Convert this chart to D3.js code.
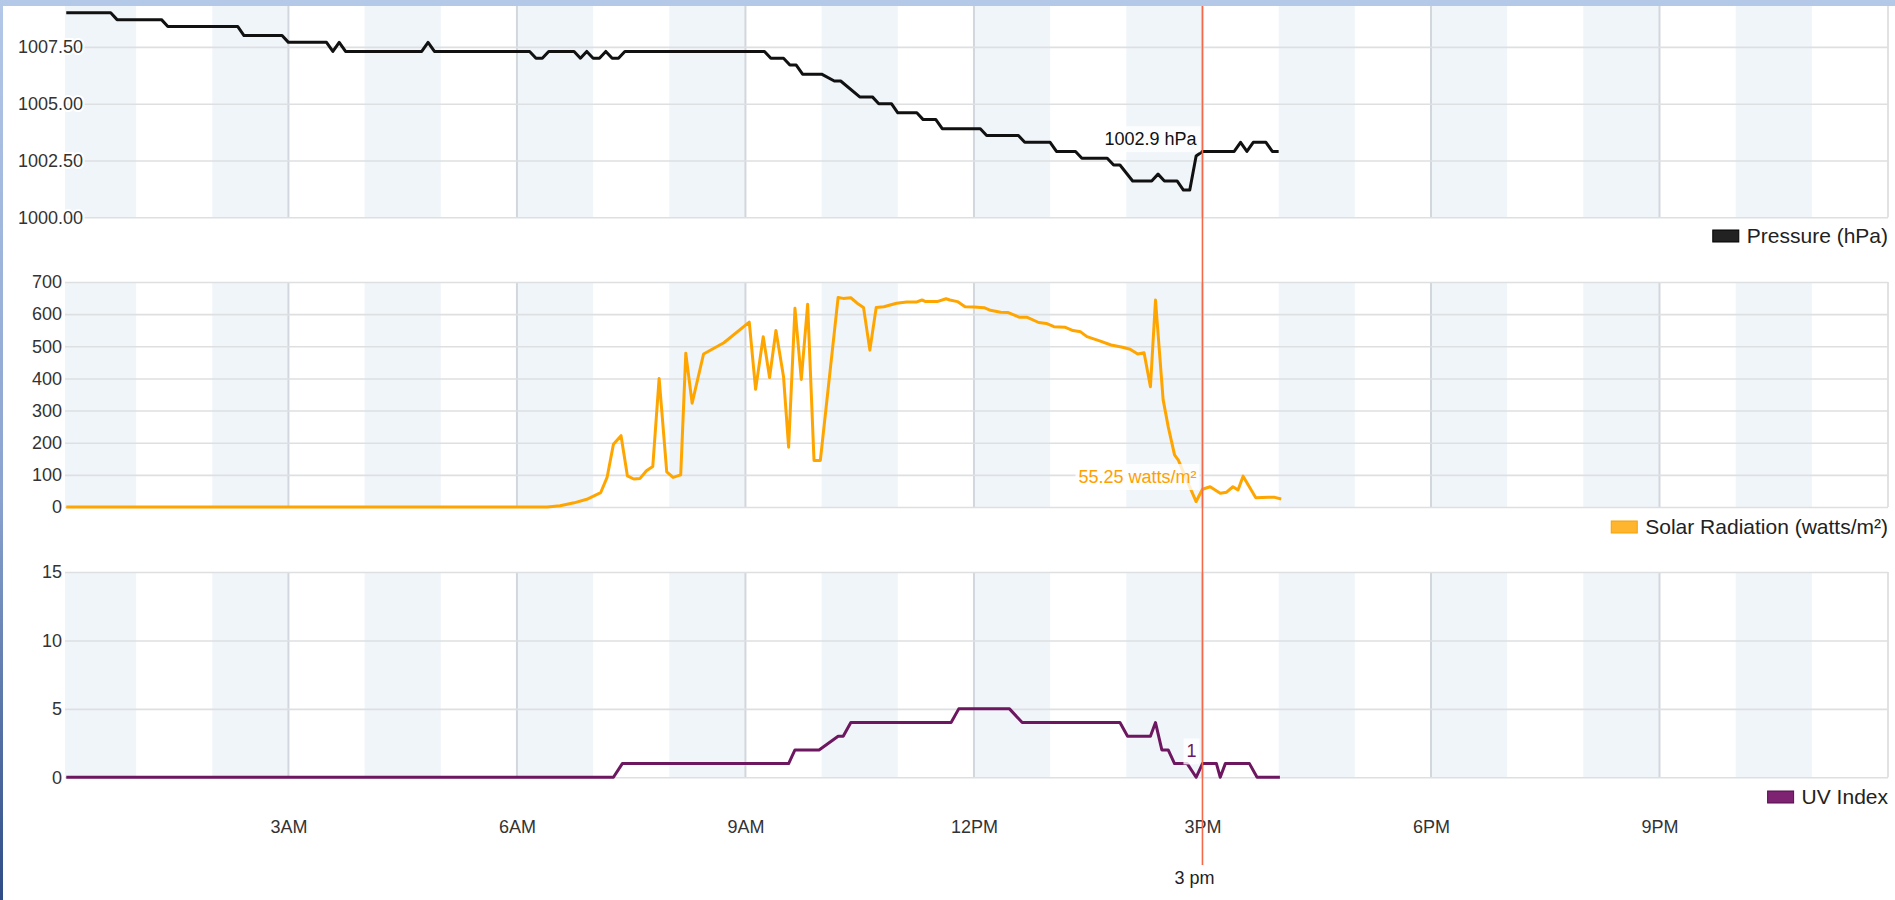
<!DOCTYPE html>
<html>
<head>
<meta charset="utf-8">
<script src="https://cdn.jsdelivr.net/npm/d3@7"></script>
<style>
body { margin: 0; background: #fff; }
svg { display: block; font-family: "Liberation Sans", Arial, sans-serif; }
</style>
</head>
<body>
<svg id="chart" width="1895" height="900"></svg>
<script>
// readings of the day (local time -> value)
const pressureTimes = ["00:05","00:40","00:45","01:20","01:25","02:20","02:25","02:55","03:00","03:30","03:35","03:40","03:45","04:45","04:50","04:55","06:10","06:15","06:20","06:25","06:45","06:50","06:55","07:00","07:05","07:10","07:15","07:20","07:25","09:15","09:20","09:30","09:35","09:40","09:45","10:00","10:10","10:15","10:30","10:40","10:45","10:55","11:00","11:15","11:20","11:30","11:35","12:05","12:10","12:35","12:40","13:00","13:05","13:20","13:25","13:45","13:50","13:55","14:05","14:20","14:25","14:30","14:40","14:45","14:50","14:55","15:00","15:25","15:30","15:35","15:40","15:50","15:55","16:00"]
const pressureValues = [1009.0,1009.0,1008.7,1008.7,1008.4,1008.4,1008.0,1008.0,1007.7,1007.7,1007.3,1007.7,1007.3,1007.3,1007.7,1007.3,1007.3,1007.0,1007.0,1007.3,1007.3,1007.0,1007.3,1007.0,1007.0,1007.3,1007.0,1007.0,1007.3,1007.3,1007.0,1007.0,1006.7,1006.7,1006.3,1006.3,1006.0,1006.0,1005.3,1005.3,1005.0,1005.0,1004.6,1004.6,1004.3,1004.3,1003.9,1003.9,1003.6,1003.6,1003.3,1003.3,1002.9,1002.9,1002.6,1002.6,1002.3,1002.3,1001.6,1001.6,1001.9,1001.6,1001.6,1001.2,1001.2,1002.7,1002.9,1002.9,1003.3,1002.9,1003.3,1003.3,1002.9,1002.9]

const solarTimes = ["00:05","06:24","06:34","06:45","06:55","07:06","07:11","07:16","07:22","07:27","07:32","07:37","07:42","07:47","07:52","07:58","08:03","08:09","08:13","08:18","08:27","08:43","09:03","09:08","09:14","09:19","09:24","09:30","09:34","09:39","09:44","09:49","09:54","09:59","10:13","10:17","10:23","10:28","10:33","10:38","10:43","10:49","10:59","11:07","11:15","11:19","11:22","11:31","11:38","11:41","11:47","11:53","12:00","12:08","12:13","12:21","12:27","12:36","12:42","12:51","12:57","13:03","13:12","13:18","13:24","13:29","13:39","13:48","13:57","14:03","14:09","14:14","14:19","14:23","14:29","14:33","14:38","14:41","14:48","14:55","15:00","15:06","15:14","15:19","15:24","15:28","15:32","15:42","15:52","15:57","16:02"]
const solarValues = [0,0,4,13,24,45,92,195,222,97,87,89,113,126,400,109,92,100,478,323,476,511,575,366,530,403,549,405,186,618,397,631,145,145,652,649,651,634,621,488,621,623,634,638,638,644,639,639,648,644,639,623,622,620,612,606,605,590,590,574,571,561,559,549,545,530,517,504,497,491,476,480,374,644,334,250,162,146,80,17,55.25,63,43,46,63,53,96,29,30,30,25]

const uvTimes = ["00:05","07:16","07:23","09:34","09:39","09:58","10:13","10:17","10:23","11:42","11:48","12:28","12:38","13:55","14:01","14:19","14:23","14:28","14:33","14:38","14:48","14:55","15:00","15:11","15:14","15:18","15:37","15:43","16:01"]
const uvValues = [0,0,1,1,2,2,3,3,4,4,5,5,4,4,3,3,4,2,2,1,1,0,1,1,0,1,1,0,0]

const pressureTicks = [1000, 1002.5, 1005, 1007.5]
const solarTicks = [0, 100, 200, 300, 400, 500, 600, 700]
const uvTicks = [0, 5, 10, 15]
const hourTicks = [3, 6, 9, 12, 15, 18, 21]
const cursorTime = "15:00"
const cursorLabel = "3 pm"

const width = 1895
const plotLeft = 65, plotRight = 1888

const day = "2020-06-01"
const parseTime = d3.timeParse("%Y-%m-%d %H:%M")
const toDate = s => parseTime(day + " " + s)
const dayStart = toDate("00:00")
const atHour = h => d3.timeHour.offset(dayStart, h)

const x = d3.scaleTime()
	.domain([toDate("00:04"), atHour(24)])
	.range([plotLeft, plotRight])

const panels = [
	{ times: pressureTimes, values: pressureValues, domain: [1000, 1010], range: [217.3, -9.9],
	  ticks: pressureTicks, fmt: d3.format(".2f"), pad: -18, color: "#111",
	  swatch: "#222", swatchStroke: "#000", label: "Pressure (hPa)", legendY: 236,
	  tip: v => v.toFixed(1) + " hPa", tipColor: "#111" },
	{ times: solarTimes, values: solarValues, domain: [0, 700], range: [507, 282],
	  ticks: solarTicks, fmt: d3.format("d"), pad: 3, color: "#ffa500",
	  swatch: "#ffb52e", swatchStroke: "#f5a000", label: "Solar Radiation (watts/m²)", legendY: 527,
	  tip: v => v + " watts/m²", tipColor: "#ffa000" },
	{ times: uvTimes, values: uvValues, domain: [0, 15], range: [777.3, 572],
	  ticks: uvTicks, fmt: d3.format("d"), pad: 3, color: "#6c1760",
	  swatch: "#7d2372", swatchStroke: "#55104b", label: "UV Index", legendY: 797,
	  tip: v => String(v), tipColor: "#6c1760" }
]

const svg = d3.select("#chart")

const defs = svg.append("defs")
const grad = defs.append("linearGradient")
	.attr("id", "edge").attr("x1", 0).attr("y1", 0).attr("x2", 0).attr("y2", 1)
grad.append("stop").attr("offset", "0%").attr("stop-color", "#b4c8e8")
grad.append("stop").attr("offset", "55%").attr("stop-color", "#8aa3cf")
grad.append("stop").attr("offset", "100%").attr("stop-color", "#2f4c86")

const cursorX = x(toDate(cursorTime))

panels.forEach(p => {
	const y = d3.scaleLinear().domain(p.domain).range(p.range)
	const top = p.range[1], bottom = p.range[0]
	const g = svg.append("g")

	// alternate hour bands
	g.append("g").selectAll("rect")
		.data(d3.range(0, 24, 2))
		.join("rect")
		.attr("x", h => Math.max(plotLeft, x(atHour(h))))
		.attr("width", h => x(atHour(h + 1)) - Math.max(plotLeft, x(atHour(h))))
		.attr("y", top)
		.attr("height", bottom - top)
		.attr("fill", "#f0f5fa")

	// horizontal grid + y labels
	const yAxis = g.append("g")
		.attr("transform", `translate(${plotLeft},0)`)
		.call(d3.axisLeft(y).tickValues(p.ticks).tickFormat(p.fmt)
			.tickSize(-(plotRight - plotLeft)).tickPadding(p.pad))
	yAxis.select(".domain").remove()
	yAxis.selectAll("line").attr("stroke", "#dedfe1").attr("stroke-width", 1.6)
	yAxis.selectAll("text")
		.attr("fill", "#333")
		.attr("font-size", 18)
		.attr("font-family", "Liberation Sans, Arial, sans-serif")
		.attr("stroke", "#fff").attr("stroke-width", 4)
		.attr("paint-order", "stroke")

	// three-hour vertical grid
	g.append("g").selectAll("line")
		.data(hourTicks)
		.join("line")
		.attr("x1", h => x(atHour(h))).attr("x2", h => x(atHour(h)))
		.attr("y1", top).attr("y2", bottom)
		.attr("stroke", "#d2d7dd").attr("stroke-width", 2)

	// right border
	g.append("line")
		.attr("x1", plotRight).attr("x2", plotRight)
		.attr("y1", top).attr("y2", bottom)
		.attr("stroke", "#d8d8d8").attr("stroke-width", 1.5)

	yAxis.raise()

	const series = p.times.map((t, i) => ({ t: toDate(t), v: p.values[i] }))
	const line = d3.line().x(d => x(d.t)).y(d => y(d.v))
	g.append("path")
		.datum(series)
		.attr("d", line)
		.attr("fill", "none")
		.attr("stroke", p.color)
		.attr("stroke-width", 3)
		.attr("stroke-linejoin", "round")

	// legend, right aligned
	const lg = g.append("g")
	const lt = lg.append("text")
		.attr("x", plotRight)
		.attr("y", p.legendY)
		.attr("dy", "0.35em")
		.attr("text-anchor", "end")
		.attr("font-size", 21)
		.attr("fill", "#222")
		.text(p.label)
	const lw = lt.node().getComputedTextLength()
	lg.append("rect")
		.attr("x", plotRight - lw - 34)
		.attr("y", p.legendY - 6)
		.attr("width", 26).attr("height", 12)
		.attr("fill", p.swatch)
		.attr("stroke", p.swatchStroke)

	// value at cursor
	const idx = p.times.indexOf(cursorTime)
	const val = p.values[idx]
	const tg = g.append("g")
	const tt = tg.append("text")
		.attr("x", cursorX - 6)
		.attr("y", y(val) - 12.5)
		.attr("dy", "0.35em")
		.attr("text-anchor", "end")
		.attr("font-size", 18)
		.attr("fill", p.tipColor)
		.text(p.tip(val))
	const bb = tt.node().getBBox()
	tg.insert("rect", "text")
		.attr("x", bb.x - 3).attr("y", bb.y - 3)
		.attr("width", bb.width + 6).attr("height", bb.height + 6)
		.attr("fill", "#fff").attr("fill-opacity", 0.8)
})

// x labels
const xAxis = svg.append("g")
	.attr("transform", "translate(0,827)")
	.call(d3.axisBottom(x).tickValues(hourTicks.map(atHour))
		.tickFormat(d3.timeFormat("%-I%p")).tickSize(0).tickPadding(0))
xAxis.select(".domain").remove()
xAxis.selectAll("text")
	.attr("dy", "0.35em")
	.attr("fill", "#333")
	.attr("font-size", 18)
	.attr("font-family", "Liberation Sans, Arial, sans-serif")

// cursor line
svg.append("line")
	.attr("x1", cursorX).attr("x2", cursorX)
	.attr("y1", 0).attr("y2", 865)
	.attr("stroke", "#f4694a").attr("stroke-width", 1.6)

const cl = svg.append("g")
const clt = cl.append("text")
	.attr("x", cursorX - 8)
	.attr("y", 878)
	.attr("dy", "0.35em")
	.attr("text-anchor", "middle")
	.attr("font-size", 18)
	.attr("fill", "#222")
	.text(cursorLabel)
const cbb = clt.node().getBBox()
cl.insert("rect", "text")
	.attr("x", cbb.x - 4).attr("y", cbb.y - 3)
	.attr("width", cbb.width + 8).attr("height", cbb.height + 6)
	.attr("fill", "#fff").attr("fill-opacity", 0.85)

// window frame
svg.append("rect").attr("x", 0).attr("y", 0).attr("width", width).attr("height", 6).attr("fill", "#b4c8e8")
svg.append("rect").attr("x", 0).attr("y", 0).attr("width", 3).attr("height", 900).attr("fill", "url(#edge)")
</script>
</body>
</html>
